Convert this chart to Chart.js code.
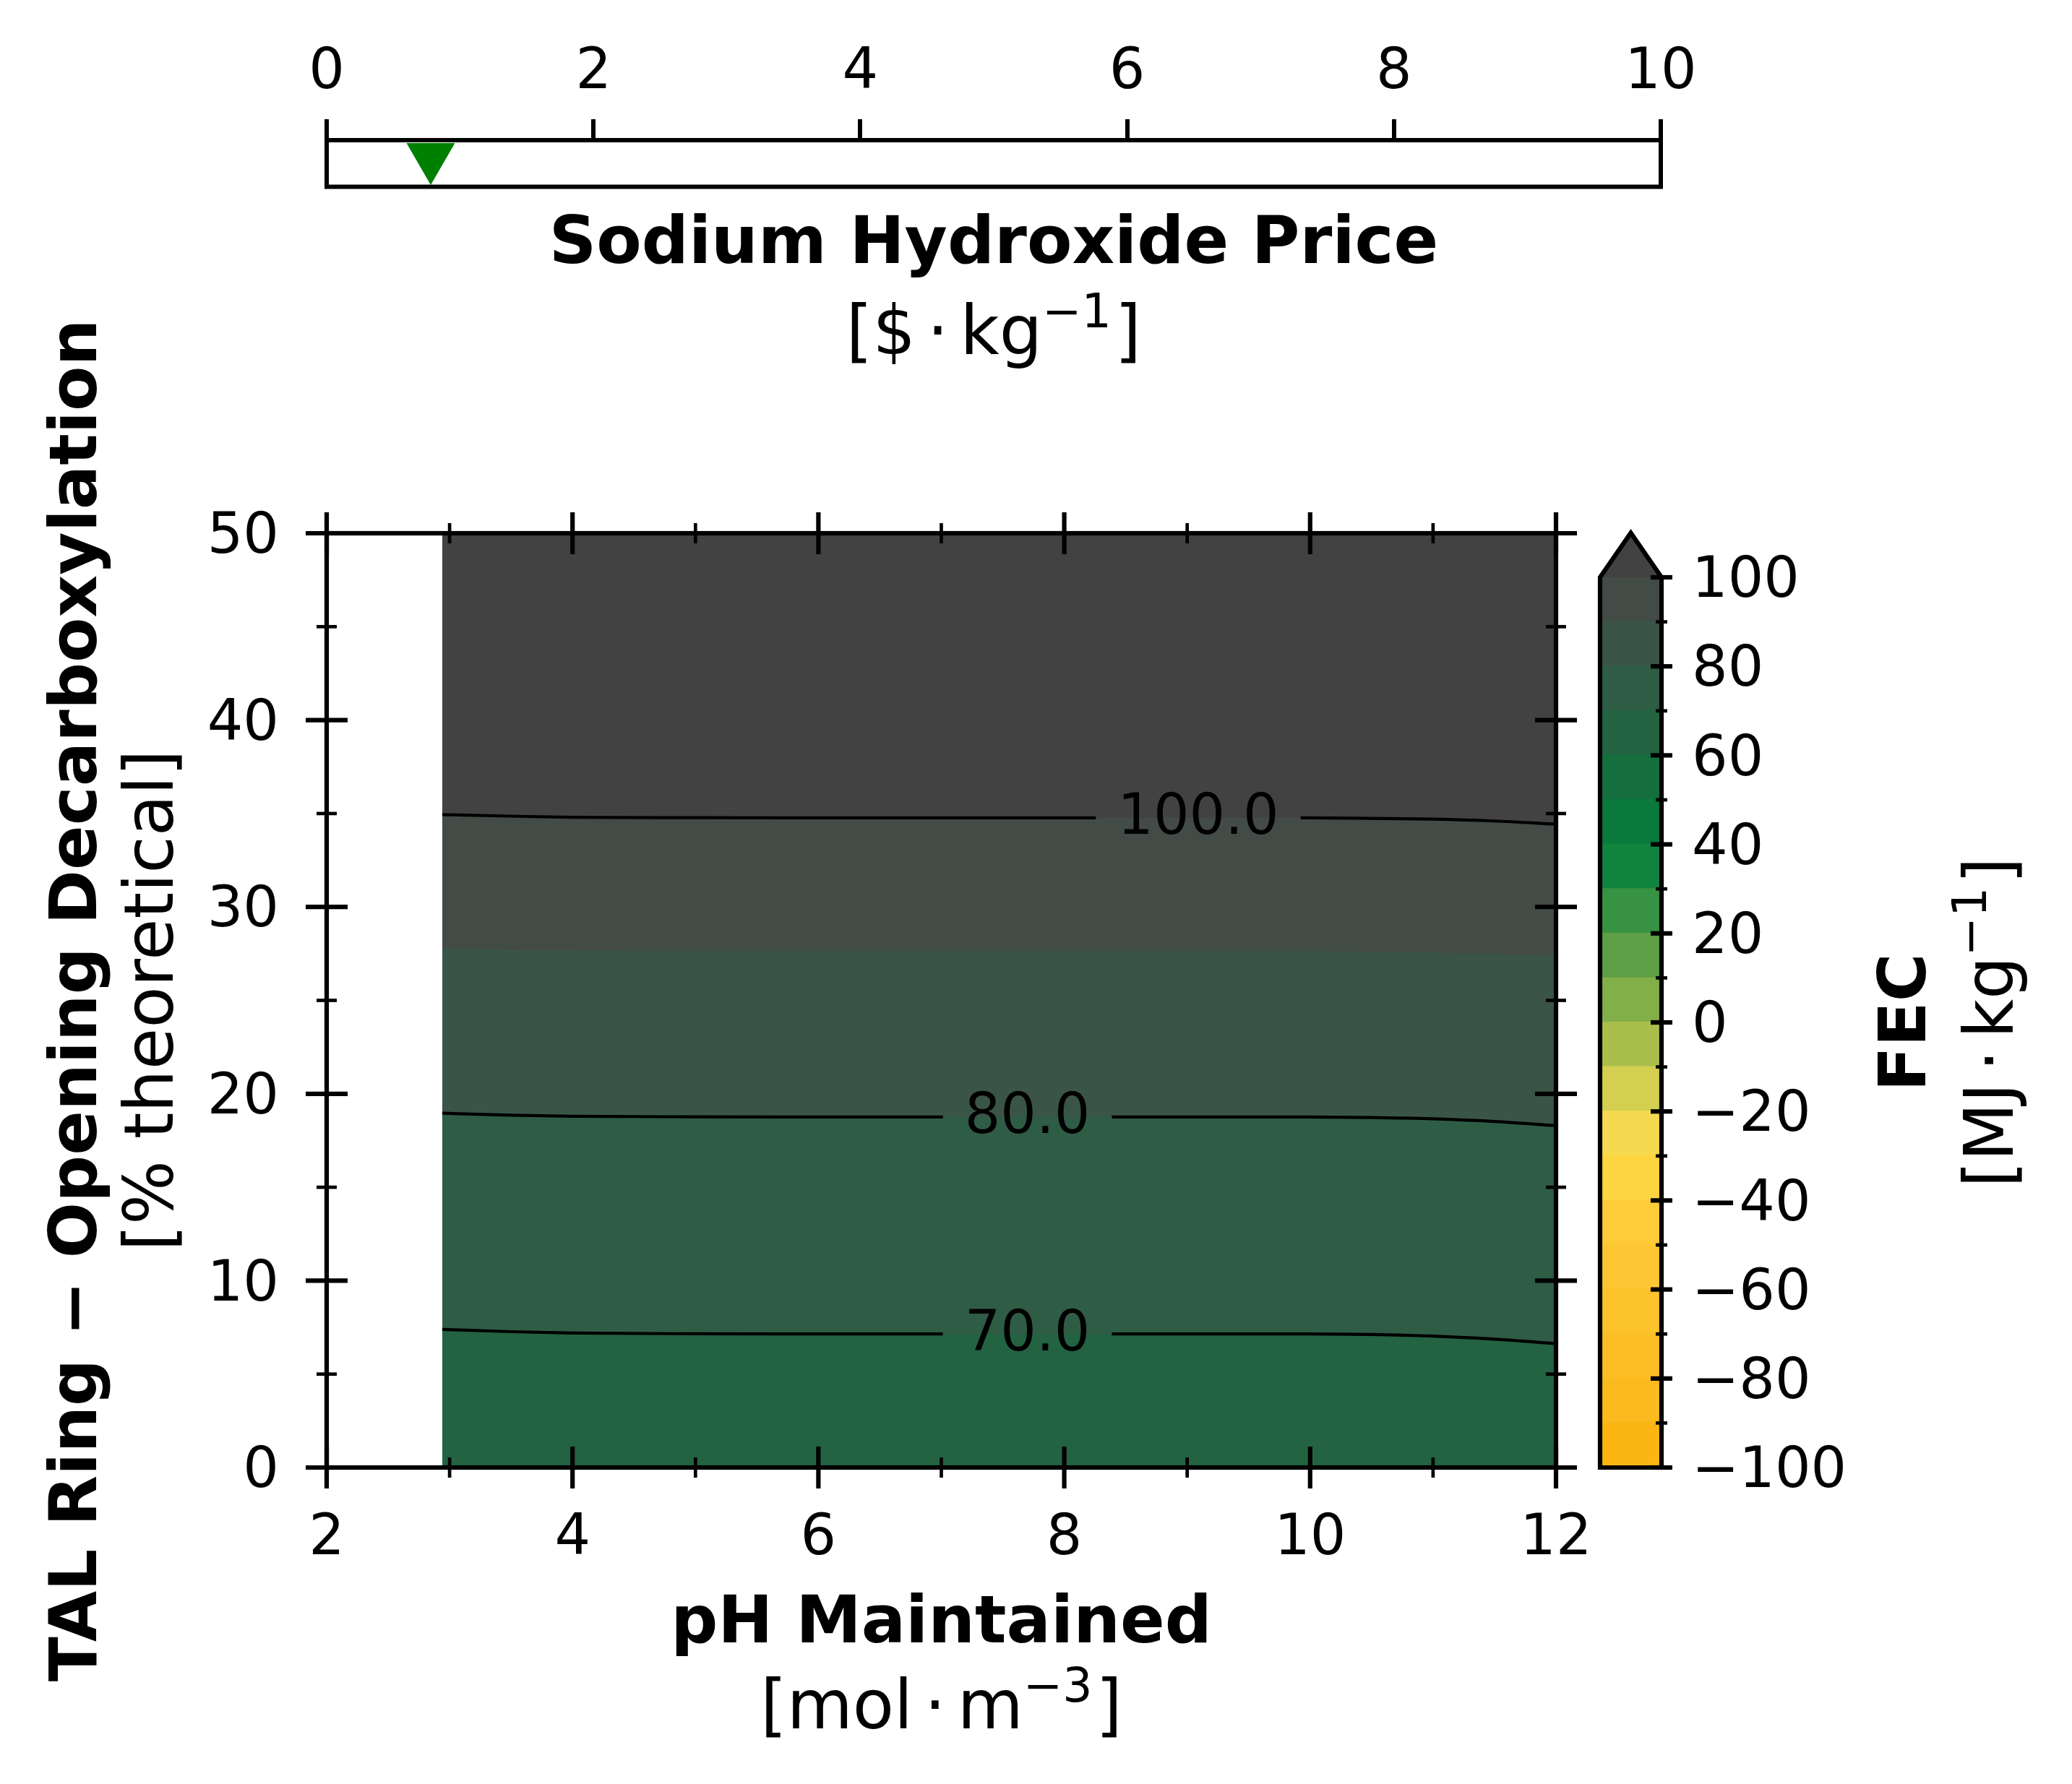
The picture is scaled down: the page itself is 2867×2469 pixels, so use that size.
<!DOCTYPE html>
<html>
<head>
<meta charset="utf-8">
<script src="https://cdn.jsdelivr.net/npm/chart.js@4.4.1/dist/chart.umd.min.js"></script>
<style>
html,body{margin:0;padding:0;background:#fff;overflow:hidden;}
#wrap{position:relative;width:2867px;height:2469px;background:#fff;}
canvas{position:absolute;left:0;top:0;}
</style>
</head>
<body>
<div id="wrap">
<canvas id="slider" width="2867" height="2469"></canvas>
<canvas id="main" width="2867" height="2469"></canvas>
<canvas id="cbar" width="2867" height="2469"></canvas>
</div>
<script>
// ---------------- data ----------------
// pH grid (x) of the contour data
const phValues = [2.94, 3.5, 4, 5, 6, 7, 8, 9, 10, 10.5, 11, 11.5, 12];
// TAL ring-opening decarboxylation (% theoretical) where FEC crosses each level
const talTop = [50, 50, 50, 50, 50, 50, 50, 50, 50, 50, 50, 50, 50];
const tal100 = [34.94, 34.86, 34.80, 34.78, 34.77, 34.77, 34.77, 34.77, 34.77, 34.74, 34.70, 34.60, 34.43];
const tal90  = [27.78, 27.70, 27.66, 27.63, 27.63, 27.63, 27.63, 27.63, 27.63, 27.60, 27.55, 27.48, 27.38];
const tal80  = [18.96, 18.86, 18.80, 18.77, 18.76, 18.76, 18.76, 18.76, 18.76, 18.73, 18.66, 18.52, 18.30];
const tal70  = [7.39, 7.27, 7.20, 7.16, 7.15, 7.15, 7.15, 7.15, 7.15, 7.12, 7.03, 6.87, 6.63];
// labelled contour lines
const contourLevels = [70, 80, 100];
const contourLabels = ['70.0', '80.0', '100.0'];
const contourLabelPH = [7.70, 7.70, 9.09];
// colour levels (FEC, MJ/kg) and band colours
const fecLevels = [-100, -90, -80, -70, -60, -50, -40, -30, -20, -10, 0, 10, 20, 30, 40, 50, 60, 70, 80, 90, 100];
const fecColors = ['#FBB614', '#FBBA1E', '#FCBE25', '#FCC22C', '#FCC732', '#FDCC38', '#FDD540', '#F5DA4F', '#D4CF50', '#AABE4B',
                   '#83AF48', '#5D9F45', '#379243', '#10843F', '#097A3C', '#156E3E', '#236342', '#2F5C45', '#3A5547', '#434B47'];
const fecOverColor = '#424242';
const fecTicks = [-100, -80, -60, -40, -20, 0, 20, 40, 60, 80, 100];
const fecMinorTicks = [-90, -70, -50, -30, -10, 10, 30, 50, 70, 90];
// axes ticks
const phTicks = [2, 4, 6, 8, 10, 12];
const phMinorTicks = [3, 5, 7, 9, 11];
const talTicks = [0, 10, 20, 30, 40, 50];
const talMinorTicks = [5, 15, 25, 35, 45];
// sodium hydroxide price slider
const naohTicks = [0, 2, 4, 6, 8, 10];
const naohPrice = 0.78;
const naohMarkerLevel = 0.639;

// ---------------- styling ----------------
const FAMILY = '"DejaVu Sans"';
const TICK_PX = 78, LABEL_PX = 93.6, BOLD_PX = 91, SUP_PX = 65, SUP_RISE = 37;
Chart.defaults.font.family = FAMILY;
Chart.defaults.color = '#000';
const tickFont = { family: FAMILY, size: TICK_PX };
const setTicks = arr => (s => { s.ticks = arr.map(v => ({ value: v })); });
const fmtMinus = v => String(v).replace('-', '\u2212');

function drawRich(ctx, runs, x, y, angle) {
  ctx.save();
  ctx.translate(x, y);
  if (angle) ctx.rotate(angle);
  ctx.textAlign = 'left';
  ctx.textBaseline = 'alphabetic';
  ctx.fillStyle = '#000';
  const sizeOf = r => r.size || (r.bold ? BOLD_PX : LABEL_PX);
  const fontOf = r => (r.bold ? 'bold ' : '') + sizeOf(r) + 'px ' + FAMILY;
  let total = 0;
  const widths = runs.map(r => {
    ctx.font = fontOf(r);
    const w = ctx.measureText(r.t).width;
    total += (r.gap || 0) * sizeOf(r) + w;
    return w;
  });
  let cx = -total / 2;
  runs.forEach((r, i) => {
    cx += (r.gap || 0) * sizeOf(r);
    ctx.font = fontOf(r);
    ctx.fillText(r.t, cx, -(r.rise || 0));
    cx += widths[i];
  });
  ctx.restore();
}
const unitRuns = (a, b, sup) => [
  { t: a }, { t: '\u00B7', gap: 0.17 }, { t: b, gap: 0.17 },
  { t: sup, size: SUP_PX, rise: SUP_RISE }, { t: ']', gap: 0.05 }
];

function line(ctx, x1, y1, x2, y2) { ctx.beginPath(); ctx.moveTo(x1, y1); ctx.lineTo(x2, y2); ctx.stroke(); }

// ---------------- slider chart ----------------
const sliderPlugin = {
  id: 'sliderDeco',
  afterDraw(chart) {
    const { ctx, chartArea: a } = chart;
    ctx.save();
    ctx.strokeStyle = '#000';
    ctx.lineWidth = 6;
    ctx.strokeRect(a.left, a.top, a.right - a.left, a.bottom - a.top);
    ctx.restore();
    const cx = (a.left + a.right) / 2;
    drawRich(ctx, [{ t: 'Sodium Hydroxide Price', bold: true }], cx, a.bottom + 105);
    drawRich(ctx, unitRuns('[$', 'kg', '\u22121'), cx, a.bottom + 231);
  }
};
new Chart(document.getElementById('slider'), {
  type: 'scatter',
  data: { datasets: [{
    data: [{ x: naohPrice, y: naohMarkerLevel }],
    pointStyle: 'triangle', rotation: 180, pointRadius: 38.7, pointHoverRadius: 38.7,
    backgroundColor: '#008000', borderWidth: 0, clip: false
  }] },
  options: {
    responsive: false, animation: false, events: [],
    layout: { padding: { left: 452, right: 2867 - 2298, top: 24, bottom: 2469 - 258.5 } },
    scales: {
      x: {
        type: 'linear', position: 'top', min: 0, max: 10,
        afterBuildTicks: setTicks(naohTicks),
        afterFit: s => { s.height = 170; },
        ticks: { font: tickFont, color: '#000', padding: 16, maxRotation: 0, autoSkip: false },
        grid: { display: true, drawOnChartArea: false, drawTicks: true, tickLength: 29, lineWidth: 6, color: '#000' },
        border: { display: false }
      },
      y: { display: false, min: 0, max: 1 }
    },
    plugins: { legend: { display: false }, tooltip: { enabled: false } }
  },
  plugins: [sliderPlugin]
});

// ---------------- main contour chart ----------------
const pts = arr => phValues.map((x, i) => ({ x, y: arr[i] }));
const bandColor = lvl => fecColors[fecLevels.indexOf(lvl)];
const fillLayers = [
  { data: talTop, color: fecOverColor },
  { data: tal100, color: bandColor(90) },
  { data: tal90, color: bandColor(80) },
  { data: tal80, color: bandColor(70) },
  { data: tal70, color: bandColor(60) }
];
const fillSets = fillLayers.map((f, i) => ({
  data: pts(f.data), fill: 'start', backgroundColor: f.color, borderColor: f.color,
  borderWidth: 0, pointRadius: 0, cubicInterpolationMode: 'monotone', order: 20 - i
}));
const lineArrays = { 70: tal70, 80: tal80, 100: tal100 };
const lineSets = contourLevels.map((lvl, i) => ({
  data: pts(lineArrays[lvl]), fill: false, borderColor: '#000', borderWidth: 4.2,
  pointRadius: 0, cubicInterpolationMode: 'monotone', order: 0,
  contourLabel: contourLabels[i], labelPH: contourLabelPH[i], levelData: lineArrays[lvl]
}));

function interpAt(xs, ys, x) {
  for (let i = 0; i < xs.length - 1; i++) {
    if (x >= xs[i] && x <= xs[i + 1]) {
      const t = (x - xs[i]) / (xs[i + 1] - xs[i]);
      return ys[i] + t * (ys[i + 1] - ys[i]);
    }
  }
  return ys[ys.length - 1];
}

const contourLabelPlugin = {
  id: 'contourLabels',
  beforeDatasetDraw(chart, args) {
    const ds = chart.data.datasets[args.index];
    if (!ds.contourLabel) return;
    const { ctx } = chart;
    ctx.save();
    ctx.font = TICK_PX + 'px ' + FAMILY;
    const w = ctx.measureText(ds.contourLabel).width;
    const px = chart.scales.x.getPixelForValue(ds.labelPH);
    const gap = w / 2 + 30;
    ctx.beginPath();
    ctx.rect(0, 0, chart.width, chart.height);
    ctx.rect(px - gap, 0, 2 * gap, chart.height);
    ctx.clip('evenodd');
  },
  afterDatasetDraw(chart, args) {
    const ds = chart.data.datasets[args.index];
    if (!ds.contourLabel) return;
    const { ctx } = chart;
    ctx.restore();
    const px = chart.scales.x.getPixelForValue(ds.labelPH);
    const py = chart.scales.y.getPixelForValue(interpAt(phValues, ds.levelData, ds.labelPH));
    ctx.save();
    ctx.font = TICK_PX + 'px ' + FAMILY;
    ctx.fillStyle = '#000';
    ctx.textAlign = 'center';
    ctx.textBaseline = 'alphabetic';
    ctx.fillText(ds.contourLabel, px, py + 0.29 * TICK_PX);
    ctx.restore();
  }
};

const mainAxesPlugin = {
  id: 'mainAxes',
  afterDraw(chart) {
    const { ctx, chartArea: a, scales: { x, y } } = chart;
    ctx.save();
    ctx.strokeStyle = '#000';
    ctx.lineCap = 'butt';
    ctx.lineWidth = 6.2;
    phTicks.forEach(v => { const p = x.getPixelForValue(v); line(ctx, p, a.bottom - 29, p, a.bottom + 29); line(ctx, p, a.top - 29, p, a.top + 29); });
    talTicks.forEach(v => { const p = y.getPixelForValue(v); line(ctx, a.left - 29, p, a.left + 29, p); line(ctx, a.right - 29, p, a.right + 29, p); });
    ctx.lineWidth = 4.7;
    phMinorTicks.forEach(v => { const p = x.getPixelForValue(v); line(ctx, p, a.bottom - 14, p, a.bottom + 14); line(ctx, p, a.top - 14, p, a.top + 14); });
    talMinorTicks.forEach(v => { const p = y.getPixelForValue(v); line(ctx, a.left - 14, p, a.left + 14, p); line(ctx, a.right - 14, p, a.right + 14, p); });
    ctx.lineWidth = 6.2;
    ctx.strokeRect(a.left, a.top, a.right - a.left, a.bottom - a.top);
    ctx.restore();
    const cx = (a.left + a.right) / 2, cy = (a.top + a.bottom) / 2;
    drawRich(ctx, [{ t: 'pH Maintained', bold: true }], cx, a.bottom + 242);
    drawRich(ctx, unitRuns('[mol', 'm', '\u22123'), cx, a.bottom + 361);
    drawRich(ctx, [{ t: 'TAL Ring \u2212 Opening Decarboxylation', bold: true }], a.left - 319, cy, -Math.PI / 2);
    drawRich(ctx, [{ t: '[% theoretical]' }], a.left - 213, cy, -Math.PI / 2);
  }
};

new Chart(document.getElementById('main'), {
  type: 'line',
  data: { datasets: [...fillSets, ...lineSets] },
  options: {
    responsive: false, animation: false, events: [],
    layout: { padding: { left: 100, right: 714, top: 738, bottom: 300 } },
    scales: {
      x: {
        type: 'linear', position: 'bottom', min: 2, max: 12,
        afterBuildTicks: setTicks(phTicks),
        afterFit: s => { s.height = 2469 - 300 - 2031; },
        ticks: { font: tickFont, color: '#000', padding: 53, maxRotation: 0, autoSkip: false },
        grid: { display: false, drawTicks: false }, border: { display: false }
      },
      y: {
        type: 'linear', position: 'left', min: 0, max: 50,
        afterBuildTicks: setTicks(talTicks),
        afterFit: s => { s.width = 352; },
        ticks: { font: tickFont, color: '#000', padding: 66, labelOffset: 7, autoSkip: false },
        grid: { display: false, drawTicks: false }, border: { display: false }
      }
    },
    plugins: { legend: { display: false }, tooltip: { enabled: false } }
  },
  plugins: [contourLabelPlugin, mainAxesPlugin]
});

// ---------------- colorbar ----------------
const colorbarPlugin = {
  id: 'colorbarDeco',
  afterDraw(chart) {
    const { ctx, chartArea: a, scales: { y } } = chart;
    const top = y.getPixelForValue(fecLevels[fecLevels.length - 1]);
    const bottom = y.getPixelForValue(fecLevels[0]);
    const apex = top - 0.05 * (bottom - top);
    const mid = (a.left + a.right) / 2;
    ctx.save();
    ctx.fillStyle = fecOverColor;
    ctx.beginPath();
    ctx.moveTo(a.left, top); ctx.lineTo(mid, apex); ctx.lineTo(a.right, top); ctx.closePath();
    ctx.fill();
    ctx.strokeStyle = '#000';
    ctx.lineWidth = 6.2;
    ctx.lineJoin = 'miter';
    ctx.beginPath();
    ctx.moveTo(a.left, bottom); ctx.lineTo(a.left, top); ctx.lineTo(mid, apex);
    ctx.lineTo(a.right, top); ctx.lineTo(a.right, bottom); ctx.closePath();
    ctx.stroke();
    ctx.lineWidth = 6.2;
    fecTicks.forEach(v => { const p = y.getPixelForValue(v); line(ctx, a.right - 15, p, a.right + 15, p); });
    ctx.lineWidth = 4.7;
    fecMinorTicks.forEach(v => { const p = y.getPixelForValue(v); line(ctx, a.right - 8, p, a.right + 8, p); });
    ctx.restore();
    const cy = (top + bottom) / 2;
    drawRich(ctx, [{ t: 'FEC', bold: true }], 2664, cy, -Math.PI / 2);
    drawRich(ctx, unitRuns('[MJ', 'kg', '\u22121'), 2785, cy, -Math.PI / 2);
  }
};

new Chart(document.getElementById('cbar'), {
  type: 'bar',
  data: {
    labels: ['FEC'],
    datasets: fecColors.map((c, k) => ({
      data: [[fecLevels[k], fecLevels[k + 1]]], backgroundColor: c, borderWidth: 0,
      barPercentage: 1, categoryPercentage: 1, grouped: false, inflateAmount: 1
    }))
  },
  options: {
    responsive: false, animation: false, events: [],
    layout: { padding: { left: 2214, right: 2867 - 2299 - 300, top: 799, bottom: 2469 - 2031 } },
    scales: {
      x: { display: false },
      y: {
        position: 'right', min: -100, max: 100,
        afterBuildTicks: setTicks(fecTicks),
        afterFit: s => { s.width = 300; },
        ticks: { font: tickFont, color: '#000', padding: 42, labelOffset: 7, autoSkip: false, callback: v => fmtMinus(v) },
        grid: { display: false, drawTicks: false }, border: { display: false }
      }
    },
    plugins: { legend: { display: false }, tooltip: { enabled: false } }
  },
  plugins: [colorbarPlugin]
});
</script>
</body>
</html>
